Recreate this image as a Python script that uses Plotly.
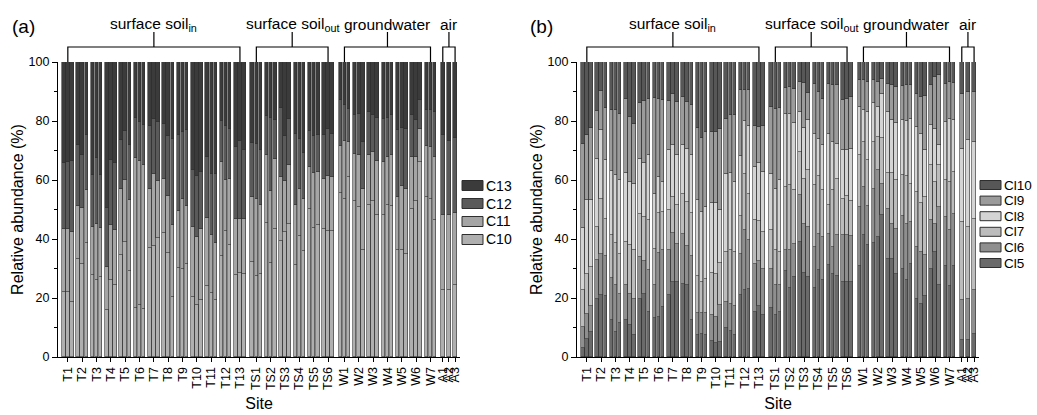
import numpy as np
import plotly.graph_objects as go

# ---------------- data ----------------
site_labels = ["T1", "T2", "T3", "T4", "T5", "T6", "T7", "T8", "T9", "T10", "T11", "T12", "T13",
               "TS1", "TS2", "TS3", "TS4", "TS5", "TS6",
               "W1", "W2", "W3", "W4", "W5", "W6", "W7",
               "A1", "A2", "A3"]
bars_per_site = [3] * 13 + [3] * 6 + [3] * 7 + [1] * 3
site_group = [0] * 13 + [1] * 6 + [2] * 7 + [3] * 3
group_labels = ["surface soil<sub>in</sub>", "surface soil<sub>out</sub>", "groundwater", "air"]

# Panel (a): cumulative relative abundance (%) at the top of each segment (bottom -> top C10, C11, C12; C13 fills to 100)
a_top_C10 = [22.0, 22.0, 18.6, 33.3, 31.4, 38.6, 27.7, 26.2, 27.1, 15.8, 26.0, 24.3, 34.7, 39.0, 29.2,
             16.6, 17.7, 16.4, 37.1, 37.6, 40.5, 42.0, 35.4, 20.3, 30.3, 29.9, 31.6, 20.3, 17.7, 19.2,
             24.1, 21.8, 19.2, 34.1, 42.6, 38.1, 27.9, 28.5, 28.0,
             32.2, 27.5, 28.2, 45.4, 32.0, 43.3, 39.3, 42.4, 45.0, 31.1, 41.0, 35.8, 50.1, 43.7, 44.9,
             43.3, 42.7, 42.7,
             55.7, 53.4, 61.0, 52.9, 50.8, 36.2, 51.6, 52.8, 48.2, 48.2, 51.6, 51.2, 36.2, 36.2, 35.0,
             50.1, 52.8, 66.1, 54.2, 53.4, 46.3,
             22.6, 22.8, 24.3]
a_top_C11 = [43.5, 43.3, 42.4, 51.2, 50.5, 56.5, 44.1, 45.2, 43.7, 30.5, 44.6, 42.9, 56.8, 59.9, 53.1,
             67.5, 66.3, 65.2, 56.8, 62.1, 59.5, 60.5, 54.6, 44.6, 49.4, 53.7, 51.1, 44.1, 40.7, 43.5,
             47.1, 41.2, 38.8, 66.1, 60.0, 60.3, 46.7, 46.7, 46.7,
             54.2, 53.4, 51.6, 68.6, 56.2, 67.2, 61.0, 59.5, 65.2, 51.6, 57.0, 53.4, 64.4, 62.5, 62.7,
             60.5, 61.4, 61.0,
             71.5, 73.1, 72.9, 68.9, 68.6, 56.8, 68.4, 69.5, 66.3, 66.1, 67.8, 68.6, 54.2, 57.9, 57.1,
             67.8, 67.8, 77.4, 71.5, 71.2, 67.8,
             48.2, 48.0, 48.9]
a_top_C12 = [65.9, 66.1, 66.3, 71.8, 68.4, 75.1, 61.8, 67.5, 61.6, 50.5, 66.7, 65.9, 73.7, 76.5, 72.0,
             81.0, 79.7, 78.8, 78.2, 80.6, 79.7, 78.9, 74.8, 74.0, 75.4, 76.3, 77.1, 63.3, 61.4, 62.7,
             67.8, 62.1, 61.9, 79.9, 78.2, 77.4, 71.2, 73.1, 70.3,
             72.7, 72.3, 70.1, 81.6, 81.0, 80.5, 84.5, 74.8, 80.8, 75.5, 74.0, 69.0, 76.5, 74.8, 75.1,
             75.4, 77.2, 75.7,
             87.0, 85.5, 84.2, 82.1, 82.5, 72.9, 83.1, 82.1, 81.0, 80.8, 81.0, 81.9, 76.8, 77.6, 77.2,
             81.9, 80.2, 87.0, 83.6, 83.6, 83.1,
             75.1, 73.1, 74.2]

# Panel (b): cumulative relative abundance (%) at the top of each segment (bottom -> top Cl5..Cl9; Cl10 fills to 100)
b_top_Cl5 = [3.1, 6.2, 8.5, 19.8, 20.9, 20.6, 12.7, 8.5, 11.5, 12.7, 11.0, 7.3, 19.8, 21.5, 15.3,
             13.2, 13.6, 16.9, 21.1, 25.4, 25.4, 24.9, 24.3, 12.7, 7.3, 7.9, 7.6, 5.3, 4.7, 5.1,
             9.9, 8.7, 7.6, 20.9, 22.8, 23.2, 15.3, 17.2, 14.4,
             16.6, 14.1, 15.3, 29.0, 23.4, 27.1, 39.0, 28.5, 27.1, 23.4, 29.4, 26.0, 31.3, 28.2, 27.5,
             25.4, 25.4, 25.4,
             30.7, 41.2, 37.9, 38.6, 40.7, 48.0, 33.3, 33.3, 28.2, 29.9, 26.2, 31.6, 19.8, 17.9, 20.6,
             29.9, 35.6, 24.3, 30.7, 24.0, 30.7,
             5.9, 5.9, 7.9]
b_top_Cl6 = [10.2, 14.7, 17.2, 33.0, 35.0, 34.1, 26.9, 24.3, 21.5, 24.3, 21.5, 19.8, 33.9, 32.5, 29.4,
             24.3, 35.3, 36.4, 36.2, 42.0, 38.4, 41.8, 37.5, 34.1, 14.9, 14.9, 14.9, 14.1, 13.6, 17.5,
             18.6, 17.9, 17.2, 35.0, 42.9, 39.5, 31.6, 32.4, 29.9,
             29.9, 24.3, 24.3, 36.4, 36.2, 38.4, 54.8, 45.2, 44.1, 37.3, 41.8, 40.7, 41.8, 37.3, 41.2,
             41.2, 41.2, 40.9,
             50.8, 57.6, 51.1, 57.1, 63.3, 58.8, 50.3, 45.2, 43.5, 47.7, 45.2, 45.8, 37.3, 35.6, 34.5,
             46.3, 45.2, 50.8, 47.5, 42.9, 48.6,
             19.4, 19.8, 22.8]
b_top_Cl7 = [22.6, 28.2, 30.5, 44.1, 53.7, 46.9, 41.2, 38.6, 35.0, 39.0, 37.9, 36.4, 48.6, 47.5, 46.3,
             36.7, 48.8, 49.2, 49.7, 54.2, 51.4, 55.1, 52.5, 48.8, 27.3, 25.4, 26.6, 28.5, 28.0, 31.9,
             35.6, 36.2, 35.6, 47.7, 61.9, 55.4, 46.3, 46.1, 42.4,
             43.2, 36.4, 35.6, 57.6, 58.2, 56.7, 69.5, 60.5, 63.5, 58.2, 61.2, 56.7, 51.4, 56.5, 60.5,
             53.7, 54.5, 52.9,
             68.6, 72.9, 66.7, 72.9, 74.6, 74.4, 62.4, 62.4, 59.9, 61.6, 61.2, 58.8, 55.9, 52.2, 54.2,
             65.0, 59.3, 65.0, 59.9, 59.3, 62.7,
             45.8, 44.1, 46.9]
b_top_Cl8 = [43.7, 53.1, 53.3, 67.2, 77.1, 66.9, 63.1, 61.6, 59.9, 62.4, 59.3, 58.8, 67.2, 65.8, 68.4,
             55.4, 61.0, 59.3, 70.1, 71.8, 68.4, 72.0, 70.6, 68.4, 53.1, 49.2, 50.8, 52.2, 52.2, 49.7,
             61.9, 62.4, 59.3, 68.0, 79.9, 78.2, 64.4, 65.8, 62.7,
             62.1, 57.1, 59.9, 82.5, 82.3, 79.3, 83.1, 77.7, 80.2, 75.7, 74.0, 71.8, 75.7, 72.9, 72.1,
             70.3, 70.3, 70.6,
             84.7, 83.8, 83.1, 86.1, 84.7, 89.3, 83.1, 80.2, 79.3, 80.2, 80.0, 80.8, 78.0, 75.7, 70.3,
             78.5, 77.4, 71.8, 79.7, 80.8, 80.2,
             70.6, 73.4, 72.9]
b_top_Cl9 = [72.1, 75.1, 77.6, 83.3, 90.2, 84.5, 83.8, 83.8, 82.5, 87.6, 81.4, 78.9, 86.1, 86.7, 87.6,
             87.8, 87.6, 87.2, 86.8, 89.3, 86.4, 88.1, 86.4, 85.3, 77.6, 74.4, 76.3, 76.3, 76.3, 77.4,
             80.8, 81.9, 81.9, 90.4, 90.6, 90.4, 78.2, 78.0, 78.2,
             84.7, 84.2, 84.5, 91.3, 91.5, 91.0, 93.2, 92.9, 89.5, 92.4, 89.8, 87.6, 92.7, 92.3, 92.1,
             87.2, 87.6, 88.1,
             94.0, 94.0, 93.2, 93.8, 93.2, 94.4, 92.7, 92.1, 91.5, 91.8, 92.1, 92.1, 89.0, 88.1, 88.4,
             92.1, 94.9, 95.5, 92.7, 93.2, 93.0,
             89.3, 89.8, 89.8]

a_series = ["C10", "C11", "C12", "C13"]
a_colors = ["#afafaf", "#a5a5a5", "#5a5a5a", "#3b3b3b"]
b_series = ["Cl5", "Cl6", "Cl7", "Cl8", "Cl9", "Cl10"]
b_colors = ["#6a6a6a", "#8f8f8f", "#bcbcbc", "#d4d4d4", "#9b9b9b", "#575757"]

# ---------------- layout helpers ----------------
W, H = 1037, 415
SITE_GAP, GROUP_GAP = 0.5, 1.0
x_pos, tick_pos = [], []
cur = 0.0
for i, n in enumerate(bars_per_site):
    if i > 0:
        gap = GROUP_GAP if site_group[i] != site_group[i - 1] else SITE_GAP
        cur = x_pos[-1] + 1 + gap
    for j in range(n):
        x_pos.append(cur + j)
    tick_pos.append(cur + (n - 1) / 2)

def py(px):  # pixel row -> paper y
    return (H - px) / H

def pxx(px):  # pixel column -> paper x
    return px / W

def seg(tops):
    tops = [np.zeros(len(tops[0]))] + [np.array(t, float) for t in tops] + [np.full(len(tops[0]), 100.0)]
    return [np.round(tops[k + 1] - tops[k], 2) for k in range(len(tops) - 1)]

a_vals = seg([a_top_C10, a_top_C11, a_top_C12])
b_vals = seg([b_top_Cl5, b_top_Cl6, b_top_Cl7, b_top_Cl8, b_top_Cl9])

FONT = "Liberation Sans, Arial, sans-serif"
fig = go.Figure()
for name, col, v in zip(a_series, a_colors, a_vals):
    fig.add_trace(go.Bar(x=x_pos, y=v, name=name, width=0.86, xaxis="x", yaxis="y", showlegend=False,
                         marker=dict(color=col, line=dict(color="#2e2e2e", width=0.6))))
for name, col, v in zip(b_series, b_colors, b_vals):
    fig.add_trace(go.Bar(x=x_pos, y=v, name=name, width=0.86, xaxis="x2", yaxis="y2", showlegend=False,
                         marker=dict(color=col, line=dict(color="#2e2e2e", width=0.6))))

xr = [-1.4, 96.7]
ydom = [py(357), py(62)]
common_x = dict(range=xr, tickmode="array", tickvals=tick_pos, ticktext=site_labels, tickangle=-90,
                ticks="outside", ticklen=4, tickwidth=1, tickcolor="black", showline=True, linecolor="black",
                linewidth=1.2, showgrid=False, zeroline=False, automargin=False,
                tickfont=dict(size=12.5, color="black"),
                title=dict(text="Site", font=dict(size=16, color="black"), standoff=8))
common_y = dict(range=[0, 100], domain=ydom, tickvals=[0, 20, 40, 60, 80, 100], ticks="outside", ticklen=5,
                tickwidth=1, tickcolor="black", showline=True, linecolor="black", linewidth=1.2, showgrid=False,
                zeroline=False, automargin=False, tickfont=dict(size=12.5, color="black"),
                minor=dict(ticks="outside", dtick=10, ticklen=3, tickcolor="black"),
                title=dict(text="Relative abundance (%)", font=dict(size=16, color="black"), standoff=0))

fig.update_layout(
    width=W, height=H, autosize=False, margin=dict(l=0, r=0, t=0, b=0, autoexpand=False),
    paper_bgcolor="white", plot_bgcolor="white", barmode="stack", bargap=0,
    font=dict(family=FONT, color="black"),
    xaxis=dict(domain=[58 / W, 460 / W], anchor="y", **common_x),
    yaxis=dict(anchor="x", **common_y),
    xaxis2=dict(domain=[577 / W, 979 / W], anchor="y2", **common_x),
    yaxis2=dict(anchor="x2", **common_y),
    showlegend=False,
)

shapes, annots = [], []

# group brackets and labels
group_first = [0, 13, 19, 26]
group_last = [12, 18, 25, 28]
for xref in ["x", "x2"]:
    for g in range(4):
        x1, x2 = tick_pos[group_first[g]], tick_pos[group_last[g]]
        xm = (x1 + x2) / 2
        shapes.append(dict(type="path", xref=xref, yref="paper",
                           path=f"M {x1},{py(62)} L {x1},{py(47)} L {x2},{py(47)} L {x2},{py(62)}",
                           line=dict(color="black", width=1.2)))
        shapes.append(dict(type="line", xref=xref, yref="paper", x0=xm, x1=xm, y0=py(47), y1=py(32),
                           line=dict(color="black", width=1.2)))
        annots.append(dict(x=xm, y=py(24), xref=xref, yref="paper", text=group_labels[g], showarrow=False,
                           xanchor="center", yanchor="middle", font=dict(size=15.5, color="black")))

# legends (series boxes + names), drawn top-down as in the reference
def add_legend(names, colors, box_x0, box_x1, y_centers, box_h, text_x, fsize):
    for name, col, yc in zip(names, colors, y_centers):
        shapes.append(dict(type="rect", xref="paper", yref="paper", x0=pxx(box_x0), x1=pxx(box_x1),
                           y0=py(yc + box_h / 2), y1=py(yc - box_h / 2), fillcolor=col,
                           line=dict(color="#2e2e2e", width=1)))
        annots.append(dict(x=pxx(text_x), y=py(yc), xref="paper", yref="paper", text=name, showarrow=False,
                           xanchor="left", yanchor="middle", font=dict(size=fsize, color="black")))

add_legend(a_series[::-1], a_colors[::-1], 462, 483, [185.5, 203.5, 221.5, 239.5], 10, 484, 14)
add_legend(b_series[::-1], b_colors[::-1], 980, 1001, [185, 200.6, 216.2, 231.8, 247.4, 263], 9, 1002, 13.5)

annots.append(dict(x=pxx(10), y=py(26), xref="paper", yref="paper", text="(a)", showarrow=False,
                   xanchor="left", yanchor="middle", font=dict(size=19, color="black")))
annots.append(dict(x=pxx(528), y=py(26), xref="paper", yref="paper", text="(b)", showarrow=False,
                   xanchor="left", yanchor="middle", font=dict(size=19, color="black")))
fig.update_layout(shapes=shapes, annotations=annots)

fig.write_html("out.html", config={"displayModeBar": False},
               post_script="document.body.style.margin='0';")
